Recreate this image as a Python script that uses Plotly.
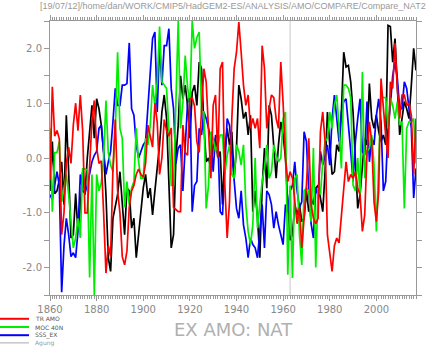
import plotly.graph_objects as go

years = list(range(1860, 2018))

tr_amo = [
 -0.4, 1.3, 0.4, 0.5, 0.35, -1.4, -1.0, -0.1, 0.2, -0.1,
 0.6, 1.0, 0.5, 1.15, 0.5, -1.0, -1.0, -0.1, 0.7, 1.05,
 0.2, -0.1, -0.05, -1.0, -2.1, -1.6, -1.8, -0.2, 0.7, -0.6,
 -1.0, -1.8, -1.95, -1.7, -0.9, -0.6, -0.5, -0.3, -0.2, -0.3,
 -0.35, -0.1, 0.6, 0.4, 0.2, 1.0, 0.65, -0.3, 0.0, 0.7,
 0.5, 0.4, 0.55, -0.9, -0.95, -0.98, -0.98, 0.6, 0.1, 0.05,
 1.08, 1.1, 0.95, 0.3, 0.1, 0.9, 1.63, 1.39, 0.5, -0.37,
 0.96, 1.15, 0.0, 1.63, 1.75, -0.5, -1.46, -0.8, 0.72, 1.63,
 1.93, 2.48, 1.93, 1.33, 0.96, 1.15, 0.54, 0.72, 0.54, 0.72,
 0.18, 2.05, 1.63, 0.54, 0.9, 1.15, 1.1, 0.72, 0.54, 1.75,
 1.0, 0.0, -0.43, -0.25, -0.37, -0.8, -1.2, -0.9, -1.64, -1.1,
 -0.5, 0.36, -0.85, -1.1, -1.2, -1.1, 0.48, 0.84, 0.3, -1.4,
 -1.7, -2.07, -1.6, -1.46, -1.55, -1.0, -0.55, -0.07, -0.43, -0.3,
 -0.37, -0.25, -0.55, -0.67, -1.34, -1.04, 0.1, 0.66, 0.3, -0.8,
 -1.16, -0.6, 1.45, 0.9, 0.4, 0.0, 1.39, 1.27, 2.1, 1.27,
 0.72, 1.15, 1.15, 0.96, 1.0, 0.78, -0.3, 0.72]

moc_40n = [
 0.54, -0.98, 0.1, 0.1, 0.3, -0.8, -0.55, -0.3, -0.67, -1.1,
 -1.64, -1.46, -1.1, -1.46, -0.2, -0.2, -0.22, -2.18, -0.3, -2.5,
 -0.3, -0.6, -0.45, 0.0, 1.05, 0.1, -0.13, -0.25, 0.48, 1.93,
 0.54, 0.36, -0.9, -0.43, -0.85, -0.55, -0.43, 0.54, -0.07, -0.37,
 -0.37, 0.36, 0.24, 0.6, 1.33, 0.96, 1.39, 2.4, 1.39, 1.33,
 1.27, 0.5, -0.5, -0.5, 0.9, 2.5, 0.54, 1.0, 1.87, 1.3,
 0.96, 2.5, 2.0, 2.2, 2.3, 0.84, 0.84, -0.92, -0.5, 0.48,
 0.36, 0.12, 0.24, 0.42, 0.42, -0.3, 0.05, 0.24, -0.3, -0.37,
 0.24, 0.12, -0.13, 0.24, -0.85, -1.34, -1.58, -1.22, 0.0, -1.28,
 -0.85, -0.43, -0.19, 0.24, -0.37, -0.25, 0.24, 0.05, -0.07, 0.0,
 0.72, 0.84, -2.13, -0.5, -2.19, -0.37, -0.3, -1.4, -1.95, -0.6,
 -0.55, -0.6, -1.16, 0.18, -2.0, -0.55, -0.67, -0.07, 0.3, 0.36,
 0.84, 0.54, 0.96, 1.15, 0.54, -0.19, 1.33, 1.33, 1.27, 1.1,
 -0.5, -0.6, 0.0, -0.67, 1.57, -0.37, 0.12, 0.18, 0.42, -0.13,
 -1.34, 0.05, 1.15, 1.1, 1.1, 0.54, 1.1, 0.96, 0.72, 1.03,
 0.6, 0.66, -0.92, 0.54, 0.66, 0.66, 0.72, -0.1]

sss_ex = [
 -0.67, -0.76, -0.5, -0.25, -0.5, -2.45, -1.6, -1.1, -1.4, -1.8,
 -1.73, -1.82, -1.34, -0.3, -0.6, -0.64, -0.5, -0.25, -0.07, 0.05,
 0.12, 0.54, 0.6, 0.12, -0.3, -0.07, 0.12, 0.66, 1.27, 0.96,
 0.96, 1.33, 1.33, 1.36, 2.1, 0.9, 0.78, 0.24, 0.0, 0.12,
 0.24, 0.3, 0.9, 1.39, 2.18, 2.3, 0.84, 2.1, 1.33, 2.05,
 2.05, 2.36, 1.27, 0.9, -0.1, 0.18, 0.24, -0.6, 0.18, 1.0,
 1.15, -0.98, -0.5, -0.43, 0.54, 0.42, 0.84, 0.72, 0.54, 0.36,
 -0.25, 0.42, 0.36, -0.98, -1.04, -0.13, 0.72, 0.6, 0.12, -0.3,
 -0.92, -1.1, -0.6, -1.22, -1.46, -1.82, -1.46, -1.58, -1.64, -1.82,
 -1.28, -0.85, -1.64, -0.6, -0.67, -0.85, -1.28, -0.98, -1.22, -1.4,
 -1.58, -0.85, -0.98, -0.6, -0.5, -0.07, -0.6, -0.9, -0.8, 0.48,
 0.3, -0.6, -1.2, -1.46, -0.55, -0.67, 0.12, -0.13, 0.05, 0.24,
 -0.13, 0.72, 1.15, 0.78, 0.3, 0.84, 1.03, 1.08, 0.66, 0.12,
 -0.43, 0.3, 0.72, 1.08, 0.12, 0.05, 1.03, -0.07, 0.36, 0.24,
 0.78, 1.08, 0.66, -0.6, -0.43, 0.54, 0.96, 1.5, 1.75, 1.45,
 0.9, 0.9, 1.39, 1.27, 0.9, 0.54, -0.73, -0.19]

ex_amo = [
 -0.6, 0.3, -0.65, -0.6, -0.4, -0.07, -0.85, 0.78, -0.25, -1.46,
 -1.4, -0.65, -1.34, -0.9, -0.25, -0.67, 0.0, 0.45, 0.96, 0.36,
 1.08, 0.9, 0.6, 0.1, -0.67, -1.82, -2.07, -1.1, -0.85, -0.67,
 -0.25, -0.85, -1.4, -0.55, -0.6, -1.28, -1.1, -1.82, -1.4, -0.85,
 -0.55, -0.3, -0.73, -0.55, -1.04, -0.6, -0.19, 0.24, 0.84, 1.15,
 0.72, -0.6, -1.64, -1.4, 0.0, 0.6, 1.5, 1.08, 1.33, 0.96,
 0.36, 1.2, 1.33, 0.96, 1.75, 1.63, 0.6, -0.07, 0.0, -0.19,
 0.24, 0.36, 0.0, 0.12, -0.85, 0.12, 0.54, 0.24, 0.48, -0.37,
 0.18, 1.33, 1.08, 0.72, 0.84, 0.42, 0.78, -0.98, -0.6, -1.1,
 -1.82, -0.55, 0.18, -0.55, 0.96, 0.78, 0.24, -0.37, 0.24, 0.66,
 0.42, 0.0, -0.85, -1.5, -1.4, -0.85, -1.04, -0.85, -1.16, -1.1,
 -0.6, -0.98, -0.73, -0.85, -0.55, -0.5, -0.73, -0.98, -0.25, 0.84,
 0.24, -0.3, -0.25, 0.24, 0.12, 0.84, 1.93, 1.66, 1.69, 1.39,
 0.84, 0.0, -0.92, -0.67, -0.07, 0.36, 0.24, 1.36, 0.72, 0.54,
 0.78, 0.48, 0.3, 0.42, 0.24, 2.42, 2.4, 1.75, 2.18, 1.15,
 0.42, 0.72, 1.03, 0.9, 0.72, 1.33, 2.0, 1.6]

agung_year = 1963
y_range = [-2.5, 2.5]
x_range = [1860, 2017]

legend_names = ["TR AMO", "MOC 40N", "SSS_EX", "Agung"]
legend_colors = ["#ff0000", "#00ee00", "#0000ff", "#aaaaaa"]

fig = go.Figure()
lw = 1.7
fig.add_trace(go.Scatter(x=[agung_year, agung_year], y=y_range, mode="lines",
                         line=dict(color="#c8c8c8", width=1), showlegend=False))
fig.add_trace(go.Scatter(x=years, y=ex_amo, mode="lines",
                         line=dict(color="#000000", width=lw), showlegend=False))
fig.add_trace(go.Scatter(x=years, y=sss_ex, mode="lines",
                         line=dict(color="#0000ff", width=lw), showlegend=False))
fig.add_trace(go.Scatter(x=years, y=moc_40n, mode="lines",
                         line=dict(color="#00ee00", width=lw), showlegend=False))
fig.add_trace(go.Scatter(x=years, y=tr_amo, mode="lines",
                         line=dict(color="#ff0000", width=lw), showlegend=False))

W, H = 433, 347
L, R, T, B = 50, 17, 21, 52
pw, ph = W - L - R, H - T - B

def px(x):
    return (x - L) / pw

def py(y):
    return (H - B - y) / ph

shapes = []
annotations = []
leg_y = [318.8, 327.0, 335.2, 342.9]
for i, (name, col) in enumerate(zip(legend_names, legend_colors)):
    wdt = 2 if i < 3 else 1
    shapes.append(dict(type="line", xref="paper", yref="paper",
                       x0=px(0), x1=px(29), y0=py(leg_y[i]), y1=py(leg_y[i]),
                       line=dict(color=col, width=wdt)))
    annotations.append(dict(text=name, xref="paper", yref="paper",
                            x=px(33), y=py(leg_y[i]), xanchor="left", yanchor="middle",
                            showarrow=False,
                            font=dict(size=6, color="#555555" if i < 3 else "#999999",
                                      family="DejaVu Sans")))

annotations.append(dict(text="[19/07/12]/home/dan/WORK/CMIP5/HadGEM2-ES/ANALYSIS/AMO/COMPARE/Compare_NAT2",
                        xref="paper", yref="paper", x=px(233), y=py(6),
                        xanchor="center", yanchor="middle", showarrow=False,
                        font=dict(size=9, color="#999999", family="Liberation Sans")))
annotations.append(dict(text="EX AMO: NAT", xref="paper", yref="paper",
                        x=px(233), y=py(329), xanchor="center", yanchor="middle",
                        showarrow=False,
                        font=dict(size=18, color="#b0b0b0", family="DejaVu Sans")))

axis_col = "#999999"
fig.update_layout(
    width=W, height=H,
    margin=dict(l=L, r=R, t=T, b=B),
    paper_bgcolor="white", plot_bgcolor="white",
    showlegend=False,
    shapes=shapes, annotations=annotations,
    xaxis=dict(range=x_range, showgrid=False, zeroline=False,
               showline=True, linecolor=axis_col, linewidth=1, mirror="ticks",
               ticks="outside", ticklen=5, tickcolor=axis_col, tickwidth=1,
               tick0=1860, dtick=20,
               tickfont=dict(size=10, color="#888888", family="DejaVu Sans"),
               minor=dict(dtick=1, ticklen=3, tickcolor=axis_col, ticks="outside", showgrid=False)),
    yaxis=dict(range=y_range, showgrid=False, zeroline=False,
               showline=True, linecolor=axis_col, linewidth=1, mirror="ticks",
               ticks="outside", ticklen=5, tickcolor=axis_col, tickwidth=1,
               tickvals=[-2, -1, 0, 1, 2], ticktext=["-2.0", "-1.0", "0.0", "1.0", "2.0"],
               tickfont=dict(size=10, color="#888888", family="DejaVu Sans"),
               minor=dict(dtick=0.5, tick0=0, ticklen=5, tickcolor=axis_col, ticks="outside", showgrid=False)),
)

fig.write_html("out.html")
